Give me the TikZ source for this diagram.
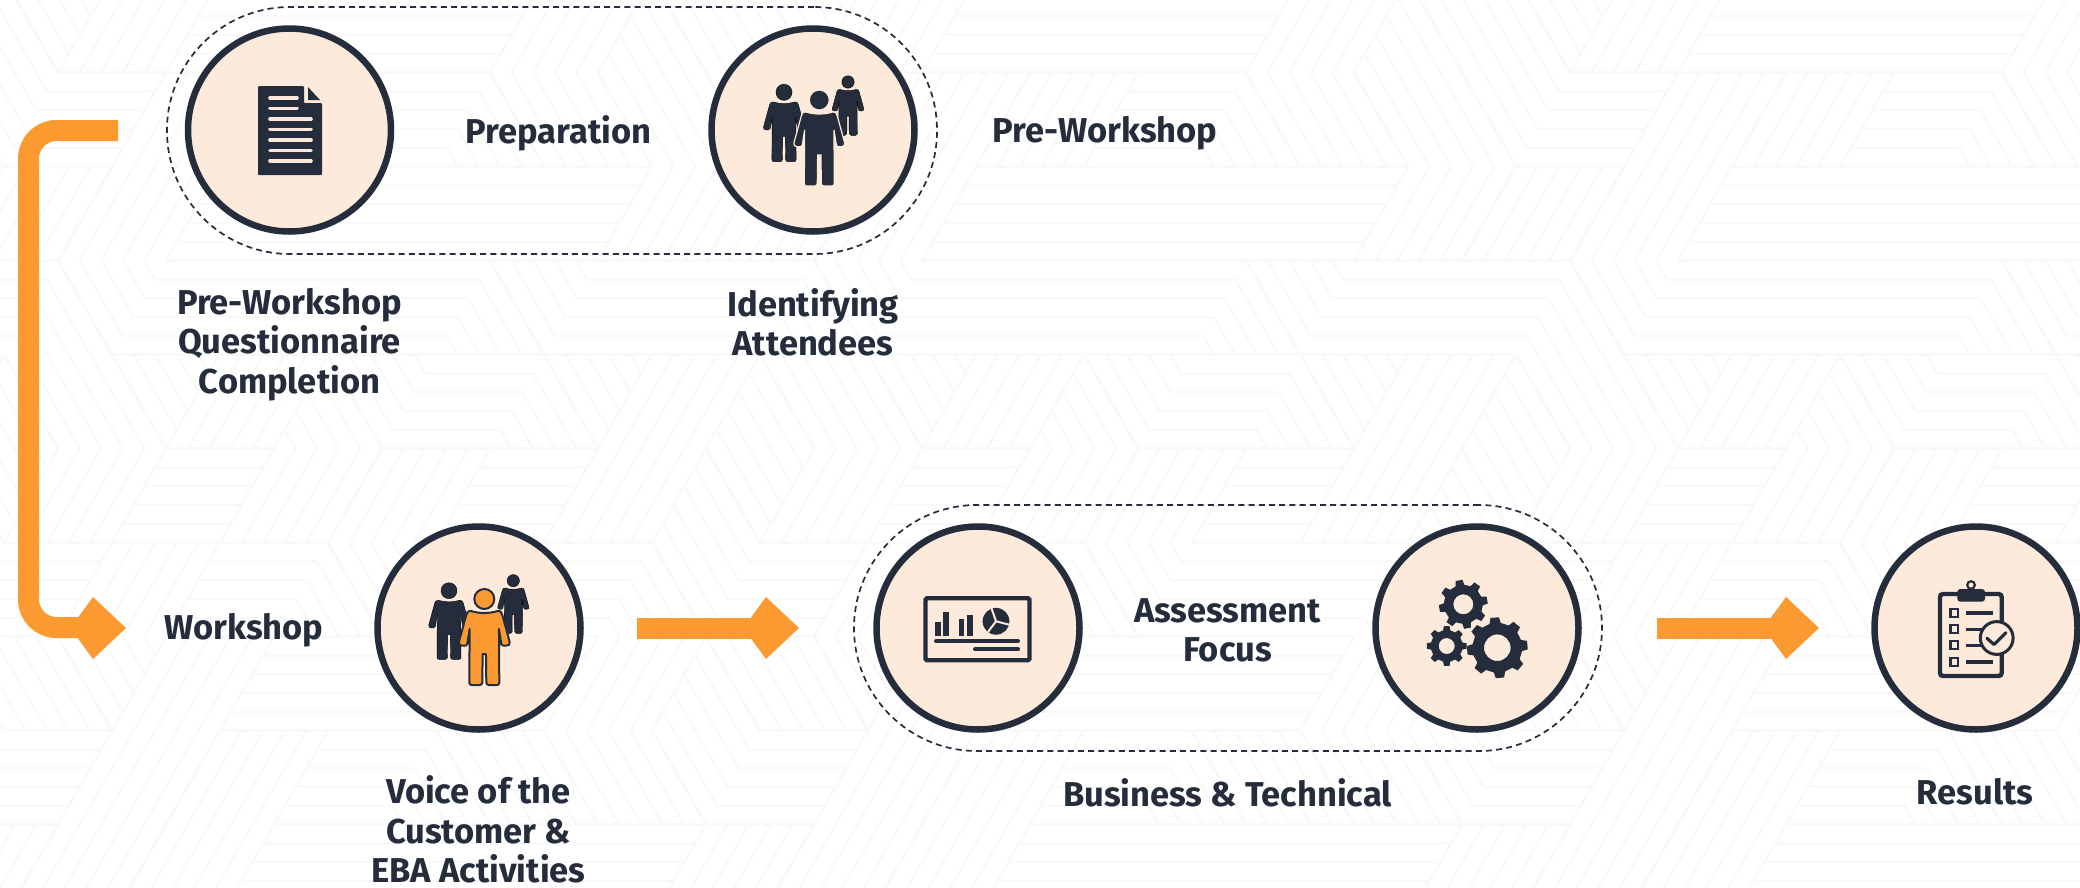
\documentclass[tikz,border=0pt]{standalone}
\usepackage{fontspec}
\setmainfont{Fira Sans}
\usetikzlibrary{calc}
\definecolor{ink}{HTML}{252D3D}
\definecolor{flow}{HTML}{FA9A30}
\definecolor{peach}{HTML}{FEEADA}
\definecolor{weave}{HTML}{F9F9F9}
\tikzset{
  stage/.style={circle,draw=ink,line width=6.5pt,fill=peach,fill opacity=.96,draw opacity=1,minimum size=203pt,inner sep=0pt},
  group/.style={draw=ink,line width=1.7pt,dash pattern=on 6pt off 4.2pt,rounded corners=123pt,inner sep=0pt},
  label/.style={font=\fontsize{34.5}{39.4}\selectfont\bfseries,text=ink,align=center,inner sep=0pt,anchor=north},
  flowline/.style={draw=flow,line width=21pt,rounded corners=28pt},
  inkfill/.style={fill=ink,draw=none},
}
% arrow head with its tip at a named coordinate
\newcommand{\flowhead}[1]{\fill[flow] ($(#1)+(-48,-10.5)$) -- ($(#1)+(-33,-31)$) -- (#1) -- ($(#1)+(-33,31)$) -- ($(#1)+(-48,10.5)$) -- cycle;}
% person: x, y of head centre, scale, style
\newcommand{\person}[4]{\begin{scope}[shift={(#1,#2)},x=#3pt,y=-#3pt,#4]
  \path[fill,draw] (0,0) circle[radius=30];
  \path[fill,draw] (-40,36) .. controls (-15,44) and (15,44) .. (40,36)
   .. controls (50,36) and (52,40) .. (54,48) -- (76,128) .. controls (78,136) and (74,140) .. (66,140)
   -- (58,140) .. controls (54,140) and (52,138) .. (51,134) -- (44,90) -- (45,250) .. controls (45,256) and (42,258) .. (38,258)
   -- (14,258) .. controls (9,258) and (6,255) .. (6,250) -- (5,165) -- (-5,165) -- (-6,250)
   .. controls (-6,255) and (-9,258) .. (-14,258) -- (-38,258) .. controls (-42,258) and (-45,256) .. (-45,250)
   -- (-44,90) -- (-51,134) .. controls (-52,138) and (-54,140) .. (-58,140) -- (-66,140)
   .. controls (-74,140) and (-78,136) .. (-76,128) -- (-54,48) .. controls (-52,40) and (-50,36) .. (-40,36) -- cycle;
\end{scope}}
% gear: x, y, outer R, body r, hole, rotation
\newcommand{\gearicon}[6]{\begin{scope}[shift={(#1,#2)}]
  \fill[ink,even odd rule,line join=round] (#6-13:#4pt)
    \foreach \k in {0,45,...,315}{ -- ({#6+\k-13}:#4pt) -- ({#6+\k-8}:#3pt) -- ({#6+\k+8}:#3pt) -- ({#6+\k+13}:#4pt) -- ({#6+\k+32}:#4pt)} -- cycle
    (0,0) circle[radius=#5pt];
\end{scope}}
% stripes in a triangle, parallel to its side AB, stepping towards C
\newcommand{\stripes}[6]{\foreach \t in {0,.2,.4,.6,.8}{
  \draw[weave,line width=2.4pt] ({#1+\t*(#5-(#1))},{#2+\t*(#6-(#2))}) -- ({#3+\t*(#5-(#3))},{#4+\t*(#6-(#4))});}}
\begin{document}
\begin{tikzpicture}[x=1pt,y=-1pt]
\useasboundingbox (0,0) rectangle (2080,887);
\fill[white] (0,0) rectangle (2080,887);
% faint woven background
\begin{scope}
\clip (0,0) rectangle (2080,887);
\foreach \r in {-1,...,9}{
  \pgfmathsetmacro{\ty}{166.5+94*(\r-1)}
  \pgfmathsetmacro{\by}{\ty+94}
  \pgfmathsetmacro{\ox}{mod(\r+1,2)==0?4:58}
  \foreach \c in {-1,...,20}{
    \pgfmathtruncatemacro{\h}{mod(mod(abs(\c*\c*3+\r*\r*5+\c*\r*2+\c*5+\r*3),7),3)}
    \pgfmathsetmacro{\tx}{\ox+108*\c}
    \pgfmathsetmacro{\lx}{\tx-54}
    \pgfmathsetmacro{\mx}{\tx+54}
    \pgfmathsetmacro{\rx}{\tx+108}
    \ifcase\h
      \stripes{\lx}{\by}{\mx}{\by}{\tx}{\ty}
      \stripes{\tx}{\ty}{\rx}{\ty}{\mx}{\by}
    \or
      \stripes{\lx}{\by}{\tx}{\ty}{\mx}{\by}
      \stripes{\mx}{\by}{\rx}{\ty}{\tx}{\ty}
    \or
      \stripes{\tx}{\ty}{\mx}{\by}{\lx}{\by}
      \stripes{\tx}{\ty}{\mx}{\by}{\rx}{\ty}
    \fi
  }
}
\end{scope}
% dashed groups
\node[group,minimum width=770pt,minimum height=247pt] (prep) at (552,130.5) {};
\node[group,minimum width=748pt,minimum height=246pt] (focus) at (1228,628) {};
% stages
\node[stage] (quest) at (289.5,130) {};
\node[stage] (attend) at (813,130) {};
\node[stage] (voice) at (479,628) {};
\node[stage] (biz) at (978,628) {};
\node[stage] (tech) at (1477,628) {};
\node[stage] (res) at (1976,628) {};
% document icon
\fill[ink,rounded corners=1pt] (258,86) -- (304,86) -- (304,103) -- (322,103) -- (322,175) -- (258,175) -- cycle;
\fill[ink] (308,87) -- (320,100) -- (308,100) -- cycle;
\foreach \yy/\xe in {97.7/297,108.3/297,119/311,129.3/311,140/311,150.3/311,160.7/311}{
  \draw[peach,line width=3.6pt,line cap=round] (270,\yy) -- (\xe,\yy);
}
% people icons
\person{848}{82}{.2067}{inkfill}
\person{784}{92.3}{.2687}{inkfill}
\person{819.3}{100}{.3333}{fill=ink,draw=peach,line width=1.2pt}
\person{513.3}{580.7}{.204}{inkfill}
\person{449}{590.7}{.266}{inkfill}
\person{484.3}{599}{.3333}{fill=flow,draw=ink,line width=2pt,line join=round}
% chart icon
\draw[ink,line width=4.4pt,rounded corners=1.5pt] (925.5,598.2) rectangle (1029.5,660.2);
\fill[ink] (935,621.7) rectangle (940.7,635.7);
\fill[ink] (942.5,611.7) rectangle (949,635.7);
\fill[ink] (959,619) rectangle (964.3,635.7);
\fill[ink] (966.7,615) rectangle (972.7,635.7);
\draw[ink,line width=4pt,line cap=round] (936,641) -- (1018,641);
\draw[ink,line width=4pt,line cap=round] (975,649.3) -- (1018,649.3);
\fill[ink] (996,621.3) circle[radius=13.4];
\draw[peach,line width=2pt] (996,621.3) -- ++(-5,-14.5);
\draw[peach,line width=2pt] (996,621.3) -- ++(14,3.6);
\draw[peach,line width=2pt] (996,621.3) -- ++(-8,10.5);
% gear icons
\gearicon{1497.3}{647.7}{30.5}{25}{13.3}{5}
\gearicon{1463.3}{604.3}{24.5}{19.5}{10}{10}
\gearicon{1446.7}{646}{20}{16}{8}{0}
% clipboard icon
\draw[ink,line width=4.4pt,rounded corners=3pt] (1940,594) rectangle (2001.7,676);
\fill[ink,rounded corners=3pt] (1957.3,589) rectangle (1985,601.7);
\draw[ink,line width=2.2pt] (1971,585) circle[radius=3.8];
\foreach \yy in {612.7,629.3,645.3,661.7}{
  \draw[ink,line width=2.3pt] (1950.5,\yy-4) rectangle (1958,\yy+4);
}
\draw[ink,line width=3.6pt] (1966,612.7) -- (1992.7,612.7);
\draw[ink,line width=3.6pt] (1966,629.3) -- (1984,629.3);
\draw[ink,line width=3.6pt] (1966,645.3) -- (1984,645.3);
\draw[ink,line width=3.6pt] (1966,661.7) -- (1992.7,661.7);
\draw[ink,fill=peach,line width=3pt] (1996.7,638) circle[radius=16.4];
\draw[ink,line width=3.2pt,line cap=round,line join=round] (1987,638.3) -- (1994,644.5) -- (2006,632.7);
% connectors
\coordinate (startbend) at (118,130.5);
\coordinate (cornerA) at (28.5,130.5);
\coordinate (cornerB) at (28.5,627.5);
\coordinate (tipA) at (126,628);
\coordinate (startB) at (636.5,628);
\coordinate (tipB) at (799,628);
\coordinate (startC) at (1657,628);
\coordinate (tipC) at (1819,628);
\draw[flowline] (startbend) -- (cornerA) -- (cornerB) -- ($(tipA)+(-40,-.5)$);
\flowhead{tipA}
\draw[flowline] (startB) -- ($(tipB)+(-40,0)$);
\flowhead{tipB}
\draw[flowline] (startC) -- ($(tipC)+(-40,0)$);
\flowhead{tipC}
% labels
\node[label] (lprep) at (558.5,115) {Preparation};
\node[label] (lpre) at (1105,116) {Pre-Workshop};
\node[label] (lq) at (289.5,288) {Pre-Workshop\\Questionnaire\\Completion};
\node[label] (li) at (813,288) {Identifying\\Attendees};
\node[label] (lw) at (244,613) {Workshop};
\node[label] (lv) at (478.5,775.5) {Voice of the\\Customer \&\\EBA Activities};
\node[label] (la) at (1227.5,598) {Assessment\\Focus};
\node[label] (lb) at (1227.5,778) {Business \& Technical};
\node[label] (lr) at (1975,778) {Results};
\end{tikzpicture}
\end{document}
